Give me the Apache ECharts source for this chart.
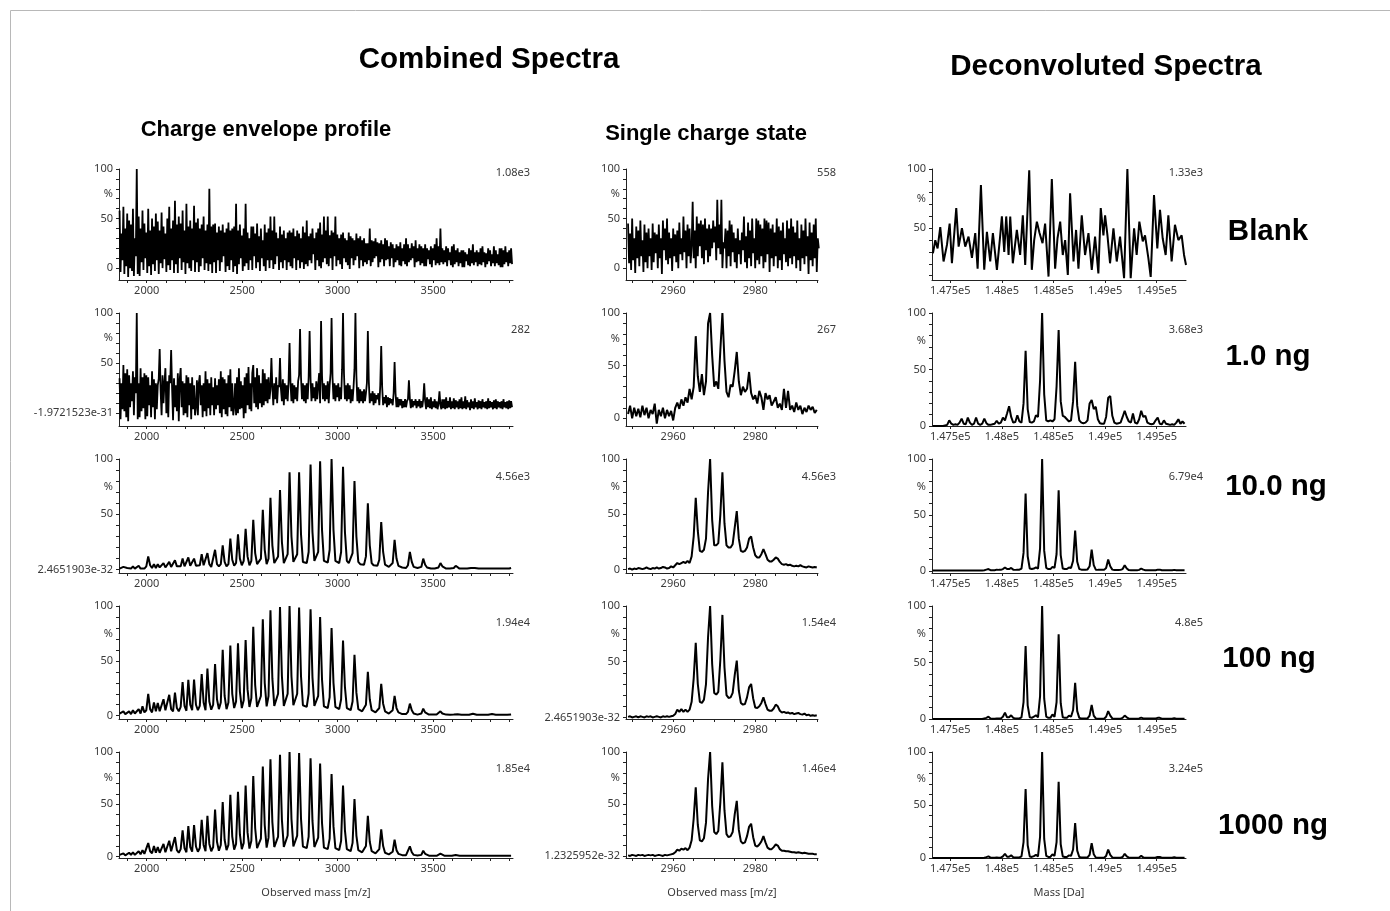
<!DOCTYPE html>
<html><head><meta charset="utf-8">
<script src="https://cdn.jsdelivr.net/npm/echarts@6/dist/echarts.min.js"></script>
<style>html,body{margin:0;padding:0;background:#fff}#c{width:1390px;height:911px}</style>
</head><body><div id="c"></div>
<script>
// ---------------- DATA ----------------
// Column 1: charge envelope profile. Noisy traces sampled every 5 m/z, clean ones every 10 m/z, from 1858
const envX0 = 1858, envNoiseStep = 5, envStep = 10;
const envBlank = [58,-4,35,8,62,-6,40,2,55,-9,48,0,44,-3,60,-8,30,12,100,-6,
 52,-8,40,6,58,-2,45,10,36,-5,60,2,38,-7,50,4,42,-3,55,8,
 47,-6,38,5,56,0,42,9,35,-4,50,3,62,-2,40,8,48,-5,68,4,
 44,-5,52,10,45,-2,58,6,38,-6,65,5,42,0,48,-3,40,8,63,-4,
 46,6,50,-4,40,2,44,10,52,-2,38,5,44,-3,80,4,42,-5,44,6,
 45,-5,36,8,42,-3,38,6,44,12,36,-4,40,2,46,-2,38,8,40,-4,
 42,2,65,-6,38,4,44,10,33,-3,40,2,65,5,36,-2,30,8,42,-2,
 42,12,35,0,45,6,32,-3,40,10,28,2,44,-3,36,8,40,0,52,8,
 38,-1,52,4,36,12,30,-2,42,6,34,0,38,8,30,-2,36,6,38,2,
 36,0,40,10,32,-2,38,8,35,0,30,6,42,-1,36,4,48,2,32,8,
 35,5,40,14,30,-2,36,8,40,2,46,0,34,6,52,10,38,4,52,2,
 33,10,38,-2,36,12,52,2,34,8,30,4,34,-1,36,10,30,6,28,3,
 36,-1,32,10,30,3,28,8,35,12,30,0,32,8,28,2,30,6,25,4,
 25,8,40,2,28,6,27,10,30,12,26,1,25,6,28,9,24,2,30,8,
 28,9,22,2,26,10,24,1,20,6,24,8,22,3,26,2,20,7,24,4,
 30,2,24,6,20,8,25,10,22,1,28,6,20,7,24,3,22,5,20,2,
 24,2,20,9,18,4,22,1,20,8,24,3,30,5,22,3,40,6,20,4,
 18,6,22,2,20,8,16,3,22,1,24,4,18,6,20,2,16,5,18,1,
 18,1,16,7,14,3,20,2,18,5,24,3,16,6,18,2,16,4,20,3,
 22,6,16,1,15,4,20,7,18,2,14,5,22,2,18,5,14,3,20,1,
 20,1,18,4,22,6,16,2,18,5,20,4];
const env1ng = [35,-6,30,4,48,2,40,-4,44,-8,38,6,30,12,42,-2,36,20,100,-6,
 30,-4,45,2,36,5,40,-6,38,-3,36,8,28,-4,42,6,34,-6,30,4,
 28,34,64,22,-2,38,10,30,45,0,32,-4,38,30,63,25,-7,35,6,28,
 2,40,-8,34,45,6,32,-2,30,0,38,-4,36,8,30,-6,36,4,28,-2,
 6,33,-2,30,38,8,28,-4,30,2,42,-3,34,5,30,-2,36,8,26,-2,
 35,4,28,8,34,0,42,-4,36,4,34,-1,30,-3,38,6,44,2,30,-2,
 6,30,-2,36,0,45,4,32,5,28,-5,36,0,40,8,46,4,30,2,40,
 48,10,36,6,45,4,38,10,30,6,44,8,40,12,34,10,36,14,24,55,
 26,8,30,14,36,10,28,26,55,24,12,34,8,30,14,28,12,32,70,30,
 12,30,10,28,14,26,12,32,38,84,36,14,30,12,28,10,30,14,36,82,
 34,12,30,15,26,12,32,14,28,40,10,92,38,14,30,12,28,14,32,10,
 28,40,95,36,14,30,12,28,16,30,12,26,14,44,100,40,14,28,12,30,
 14,28,10,24,12,26,44,100,38,12,26,10,24,12,22,10,24,12,20,30,
 82,32,10,20,12,22,8,20,10,18,14,20,8,28,67,26,8,16,10,18,
 6,16,8,15,10,14,8,20,51,20,6,16,6,14,8,14,5,12,6,14,
 6,12,14,33,14,5,14,6,12,8,14,5,12,7,14,5,12,6,14,30,
 12,4,16,6,14,5,16,4,12,6,14,5,12,4,10,22,8,4,14,5,
 14,4,16,5,12,6,16,4,12,5,15,4,13,6,12,4,14,5,16,4,
 12,5,17,4,13,6,11,3,14,5,12,4,15,6,11,4,13,5,12,4,
 14,6,11,5,12,4,15,5,12,6,11,4,13,5,14,4,12,6,11,5,
 12,4,14,6,11,5,12,4,13,5,12,6];
const env10ng = [1,1.5,2.5,1,1.5,2.5,1,3,1,1.5, 3.5,1,2.5,1,3,12,4,1.5,5,1.5, 5,2,1.5,6,2,1.5,7,2.5,1.5,8.5, 3,1.5,3,10,3,2,11,3.5,2,10,
 3.5,2,4,14,4,2.5,15,5,2.5,4, 18,5,3,5,22,7,3,5,28,9, 3.5,6,32,10,4,8,37,12,4,8, 45,15,5,4.5,10,54,18,5,10,65,
 22,6,5,12,72,25,6,5.5,14,88, 30,7,6,14,88,32,7,6,6,16, 95,34,8,6.5,16,98,36,8,6.5,6.5, 18,100,36,8,6.5,6,16,93,34,8,
 6,5.5,15,80,30,7,5,5,4.5,12, 60,22,6,4,3.5,3.5,9,43,16,4.5, 3,2.5,2.5,6,27,10,3.5,2,2,1.5, 1.5,4,16,7,2.5,1.5,1.5,1,2.5,10,
 4.5,2,1,1,1,1,1,2,6,3, 1.5,1,1,1,1,1.5,3.5,2,1,1, 1,1,1,1,1.5,3,1.5,1,1,1, 1,1,1,1,1,1.5,1,1,1,1, 1,1,1,1,1,1.5];
const env100ng = [2,3,4,1.5,2.5,4,1.5,5,2,3, 6,2,8.5,3,5,20,6,3,12,4, 11.5,4,3,15,5,3.5,19,6,4,21, 7,4,8,30.6,9,4.5,32.7,10,5,33,
 10,5,9,38,12,5,43,13,5.5,10, 47,15,6,12,60,18,6,12,64,20, 7,13,66,22,7,14,69,24,8,16, 81,28,8,7,18,88,30,8.5,18,96,
 34,9,8,20,99,36,9,8,20,100, 36,9.5,8,20,98.5,36,9.5,8,8,20, 97,35,9,7.5,18,90,33,8.5,7,7, 17,80,30,8,6.5,6,15,68.5,26,7,
 5.5,5,13,55.5,21,6,4.5,4,4,10, 40,15,5,3.5,3,3,7,29,11,4, 2.5,2,2,5,18,7,3,2,1.5,1.5, 1.5,3.5,11,5,2,1.5,1,1,2,6.4,
 3,1.5,1,1,1,1,1,1.5,4,2, 1,1,0.8,0.8,0.8,1,2.4,1.3,0.8,0.8, 0.8,0.8,0.8,0.8,1,1.8,1,0.8,0.8,0.8, 0.8,0.8,0.8,0.8,1,1.5,0.8,0.8,0.8,0.8, 0.8,0.8,0.8,0.8,0.8,1.2];
const env1000ng = [1.5,2,3,1,2,3.5,1.5,4,1.5,2.5, 5,2,6,2.5,4,12.8,5,3,10,3.5, 9,3.5,3,12,4,3,15,5,3.5,18.5, 6,3.5,7,25,8,4,29,9,4.5,30,
 9.5,4.5,8,35,11,5,39,12,5,9, 45,14,5.5,11,52,16,6,11,59,19, 6.5,12,62,21,7,13,68,23,7.5,15, 77,27,8,7,17,86,30,8.5,18,93,
 33,9,8,19,97.4,35,9,8,20,100, 36,9.5,8,20,99,36,9.5,8,8,19, 94,34,9,7.5,18,89,32,8.5,7,7, 17,79,29,8,6.5,6,15,68,25,7,
 5.5,5,13,55,20,6,4.5,4,4,10, 39,14,5,3.5,3,3,7,26,10,3.5, 2.5,2,2,4.5,16,6,2.5,1.5,1.2,1.2, 1.2,3,9.6,4,1.5,1,0.8,0.8,1.5,5.4,
 2.5,1,0.7,0.6,0.6,0.6,0.6,1,2.6,1.3, 0.7,0.6,0.6,0.6,0.6,0.8,1.3,0.8,0.6,0.6, 0.6,0.6,0.6,0.6,0.6,1,0.7,0.6,0.6,0.6, 0.6,0.6,0.6,0.6,0.6,0.8,0.6,0.6,0.6,0.6, 0.6,0.6,0.6,0.6,0.6,0.6];

// Column 2: single charge state (z = 50). Blank every 0.25 m/z, others every 0.5 m/z, from 2949
const singleX0 = 2949, singleNoiseStep = 0.25, singleStep = 0.5;
const singleBlank = [45,5,35,-2,50,8,30,-5,42,10,38,2,48,12,28,-4,44,6,36,0,
 40,12,30,-2,45,6,36,15,34,0,44,10,30,-6,48,18,40,8,50,4,
 36,10,30,-3,40,12,34,6,38,0,46,14,30,8,52,16,38,0,44,12,
 40,5,22,67,10,38,0,52,12,45,22,48,10,44,4,50,18,40,6,44,
 12,40,20,48,26,42,8,69,20,44,14,69,0,26,20,40,0,38,12,48,
 2,44,16,36,6,30,0,40,14,28,4,36,18,52,6,32,0,46,10,38,
 2,50,15,30,0,50,8,48,4,44,12,40,0,50,6,48,14,46,-4,40,
 10,44,2,36,12,50,0,42,8,38,-2,46,14,30,6,48,2,40,10,50,
 4,42,12,36,0,48,8,30,-3,44,10,38,4,50,12,32,-6,46,8,36,
 2,44,10,50,-4,30,20];
const single1ng = [4,12,0,10,2,9,1,12,3,10, 0,8,4,14,-5,8,2,10,0,8, 2,7,-2,10,15,9,18,12,20,15, 28,18,30,78,40,25,42,22,35,90,
 100,60,30,35,28,65,100,55,25,20, 32,30,45,63,35,22,30,25,28,44, 24,18,22,14,26,20,8,24,18,22, 12,16,20,10,14,8,28,10,26,8, 12,6,15,8,12,4,10,6,12,8, 11,5,8];
const single10ng = [0.5,1,0,1,0.5,1.5,1,0.5,1,2, 1,0.5,1.5,1,2,1,1.5,2.5,2,1, 1.5,3,2,4,6,5,6,7,6,8, 6,12,30,65,35,17,16,18,28,70,
 100,45,22,22,24,50,88,42,22,20, 20,23,38,53,28,17,16,17,20,28, 30,20,13,11,11,14,18.5,14,9,7.5, 7.5,9,11,10,7,5,4.5,5,4,4.5, 3.5,3,3.5,3,4,3,2.5,2,3,2.5, 2,2.5,2];
const single100ng = [0.5,1,0,0.5,1,0,1,0.5,0,1, 0.5,1,0,0.5,1,0.5,0,1,0.5,1, 0.5,1,1.5,3,7,5,7.5,5,7,5, 7,14,35,67,30,14,13,16,30,72,
 100,48,22,20.5,23,52,92,45,20,17.5, 18,22,38,51,24,13,11.5,12,18,27, 30,17,9,8.5,10,13,18,12,7,6, 6,8,11.5,10,6,4.5,5,4,4.5,3.5, 4,3,3.5,4,3,2.5,3.5,2,2.5,1.5, 2,1.5,2];
const single1000ng = [0.5,0,1,0.5,0,1,0.5,1,0,0.5, 1,0.5,1,0,0.5,1,0.5,0,1,0.5, 1,1.5,2,3.5,6,5,7,6,7.5,5.5, 8,15,36,66,30,15,14,17,32,74,
 100,48,23,21,24,52,90,44,21,18, 19,23,40,53,25,14,12,13,19,28, 31,18,10,9,11,14,19,13,8,6.5, 6.5,8.5,11,10,6.5,5,5,4.5,4.5,4, 3.5,3.5,3,3.5,3,2.5,3,2.5,2,2, 2,1.5,1.5];

// Column 3: deconvoluted spectra
const deconBlankMass = [147332,147355,147377,147403,147435,147468,147494,147516,147558,147581,147613,147645,147677,147710,147742,147765,147797,147829,147855,147887,
 147913,147952,147984,148000,148023,148042,148065,148081,148106,148145,148177,148203,148226,148265,148290,148313,148339,148365,148394,148419,
 148452,148484,148516,148539,148565,148590,148613,148639,148661,148694,148719,148742,148774,148806,148839,148871,148903,148935,148958,148984,
 149000,149023,149048,149081,149113,149145,149184,149216,149248,149281,149306,149332,149365,149387,149419,149442,149474,149506,149532,149558,
 149587,149613,149645,149677,149710,149742,149765,149784];
const deconBlankPct = [29,40,33,51,22,36,54,20.5,67,34.5,50,34.5,43,25,46,16,86.5,15,47,22,
 46,15,44,60,30,60,27.5,60,20.5,48.6,27.5,61,19,99,15,40,55.6,46,37.4,54,
 9.3,91.6,16,41.6,55.6,27.5,40,10.7,79.5,22,48.6,16,61,27.5,46,15,43,12,67,44,
 61,44,20.5,50,22,43,8,100,8,50,27.5,55.6,39,44,25,9,78,33,65.5,41.6,
 27.5,61,22,53,40,44,27.5,19];
const deconX0 = 147330, deconStep = 20;
const decon1ng = [0,0,0,0,0,0,0.5,1,5,2, 1,1.5,1,3,6.5,2,1.5,7.5,3,1, 2,7.5,2,1,2,6.5,2.5,1,1,1.5, 2,4.7,2,3,7.5,5,11,17.5,8,3,
 3.5,9.5,4,3,20,66.5,15,3.5,3,4, 9.5,8,40,100,28,5,4,5,4,6, 35,85,22,9,8,6,4,5,22,56.8, 18,5,3,2.5,3,5,20,23,15,17,
 6,2.5,2,2,8,25,26.5,9,3,2, 2.5,3,8,13.5,8,4,3,11,3,2, 6,13.5,8,9,3,2,1.5,2,5,7.5, 2,1.5,5,2,1.5,1,1.5,1,3,6, 2,4,2];
const decon10ng = [0.3,0.3,0.3,0.3,0.3,0.3,0.3,0.3,0.3,0.3, 0.3,0.3,0.3,0.3,0.3,0.3,0.3,0.3,0.3,0.3, 0.3,0.3,0.3,0.3,0.3,0.5,1,1.5,0.5,0.5, 0.5,1,0.8,0.8,1.5,3,1.5,1.5,2.5,1,
 0.8,1,1,2,16,69,13,2,1.5,2, 3,2,20,100,18,2.5,1.5,1.5,3.5,2.5, 15,72,14,2,1.5,1.5,3,2.5,9,36, 8,1.5,1,1,1,1.2,4,19,5,1,
 0.8,0.8,0.8,0.8,2.5,10,4,1,0.6,0.6, 0.6,0.8,1.5,5,2,0.6,0.5,0.5,0.5,0.5, 0.8,2,1,0.5,0.5,0.5,0.5,0.5,0.5,1, 1,0.4,0.4,0.4,0.4,0.4,0.4,0.8,0.5,0.4, 0.4,0.4,0.4];
const decon100ng = [0,0,0,0,0,0,0,0,0,0, 0,0,0,0,0,0,0,0,0,0, 0,0,0,0,0,0.5,1,2,0.5,0.3, 0.3,0.5,0.5,0.5,2,5.6,1.5,1.5,3.3,1,
 0.5,0.5,0.5,1.5,15,64.6,12,1.5,1,2, 3.3,1.5,20,100,18,2,1,1,4,2, 15,75,14,1.5,1,1,3,2,8,32, 7,1,0.5,0.5,0.5,0.5,3,12.5,3,0.5,
 0.3,0.3,0.3,0.3,2,7,3,0.5,0.3,0.3, 0.3,0.3,1,3,1.5,0.3,0.3,0.3,0.3,0.3, 0.5,1.2,0.5,0.5,0.5,0.5,0.5,0.5,0.5,1, 1,0.3,0.3,0.3,0.3,0.3,0.3,0.8,0.3,0.3, 0.3,0.3,0.3];
const decon1000ng = [0,0,0,0,0,0,0,0,0,0, 0,0,0,0,0,0,0,0,0,0, 0,0,0,0,0,0.3,0.8,1.5,0.3,0.3, 0.3,0.5,0.3,0.3,1.5,4,1.2,1.2,2.5,0.8,
 0.5,0.5,0.5,1.5,15,65,12,1.5,1,1.8, 3,1.5,20,100,18,2,1,1,3.5,2, 15,72,13,1.5,1,1,2.5,2,8,33, 7,1,0.5,0.5,0.5,0.5,3,14,3.5,0.5,
 0.3,0.3,0.3,0.3,2,8,3,0.5,0.3,0.3, 0.3,0.3,1,4,1.5,0.3,0.3,0.3,0.3,0.3, 0.5,2,0.6,0.3,0.3,0.3,0.3,0.3,0.5,1, 1,0.3,0.3,0.3,0.3,0.3,0.3,0.8,0.3,0.3, 0.3,0.3,0.3];

// Texts and tick labels
const sampleLabels = ['Blank', '1.0 ng', '10.0 ng', '100 ng', '1000 ng'];
const envMaxIntensity = ['1.08e3', '282', '4.56e3', '1.94e4', '1.85e4'];
const singleMaxIntensity = ['558', '267', '4.56e3', '1.54e4', '1.46e4'];
const deconMaxIntensity = ['1.33e3', '3.68e3', '6.79e4', '4.8e5', '3.24e5'];
const zeroLabels = [['0','0',''], ['-1.9721523e-31','0','0'], ['2.4651903e-32','0','0'], ['0','2.4651903e-32','0'], ['0','1.2325952e-32','0']];
const envTickLabels = [2000, 2500, 3000, 3500];
const singleTickLabels = [2960, 2980];
const deconTickValues = [147500, 148000, 148500, 149000, 149500];
const deconTickText = ['1.475e5', '1.48e5', '1.485e5', '1.49e5', '1.495e5'];
const envMinorTicks = [1900,2000,2100,2200,2300,2400,2500,2600,2700,2800,2900,3000,3100,3200,3300,3400,3500,3600,3700,3800,3900];
const singleMinorTicks = [2950,2955,2960,2965,2970,2975,2980,2985,2990,2995];
const yTickValues = [0,10,20,30,40,50,60,70,80,90,100];
const xAxisTitles = ['Observed mass [m/z]', 'Observed mass [m/z]', 'Mass [Da]'];

// ---------------- LAYOUT ----------------
const COL_LEFT = [119, 626, 932], COL_W = [394, 192, 254];
const ROW_TOP = [169, 313, 459, 606, 752], ROW_BOT = [280, 426, 573, 719, 858];
const Y_MIN = [[-12,-12,6.4],[-12.7,-7.3,0],[-3,-3,-2],[-3,-1.4,0],[-1.5,-2,0]];
const X_RANGE = [[1855,3918],[2948.5,2995.3],[147323,149784]];
const INT_X = [530, 836, 1203], INT_Y = [173, 330, 477, 623, 769];
const LABEL_POS = [[1268, 232], [1268, 357], [1276, 487], [1269, 659], [1273, 826]];
const NOISY = [[true, true, false], [true, false, false], [false, false, false], [false, false, false], [false, false, false]];

const uniform = (x0, step, ys) => ys.map((y, i) => [x0 + i * step, y]);
const panelData = [
  [uniform(envX0, envNoiseStep, envBlank), uniform(singleX0, singleNoiseStep, singleBlank), deconBlankMass.map((m, i) => [m, deconBlankPct[i]])],
  [uniform(envX0, envNoiseStep, env1ng), uniform(singleX0, singleStep, single1ng), uniform(deconX0, deconStep, decon1ng)],
  [uniform(envX0, envStep, env10ng), uniform(singleX0, singleStep, single10ng), uniform(deconX0, deconStep, decon10ng)],
  [uniform(envX0, envStep, env100ng), uniform(singleX0, singleStep, single100ng), uniform(deconX0, deconStep, decon100ng)],
  [uniform(envX0, envStep, env1000ng), uniform(singleX0, singleStep, single1000ng), uniform(deconX0, deconStep, decon1000ng)]
];
const intensities = [envMaxIntensity, singleMaxIntensity, deconMaxIntensity];

const FONT = '"Noto Sans", "Open Sans", sans-serif';
const BOLD = '"Liberation Sans", Arial, sans-serif';
const AX = '#222', LBL = '#3a3a3a';
const grids = [], xAxes = [], yAxes = [], series = [], graphics = [];

for (let r = 0; r < 5; r++) {
  for (let c = 0; c < 3; c++) {
    const idx = r * 3 + c;
    const ymin = Y_MIN[r][c];
    grids.push({ left: COL_LEFT[c], top: ROW_TOP[r], width: COL_W[c], height: ROW_BOT[r] - ROW_TOP[r] });
    let xLabelVals, xTicks, xFmt;
    if (c === 0) { xLabelVals = envTickLabels; xTicks = envMinorTicks; xFmt = v => String(v); }
    else if (c === 1) { xLabelVals = singleTickLabels; xTicks = singleMinorTicks; xFmt = v => String(v); }
    else { xLabelVals = deconTickValues; xTicks = deconTickValues; xFmt = v => deconTickText[deconTickValues.indexOf(v)] || ''; }
    xAxes.push({
      type: 'value', gridIndex: idx, min: X_RANGE[c][0], max: X_RANGE[c][1],
      axisLine: { show: true, onZero: false, lineStyle: { color: AX, width: 1 } },
      axisTick: { show: true, customValues: xTicks, length: 3, lineStyle: { color: AX } },
      axisLabel: { customValues: xLabelVals, formatter: xFmt, color: LBL, fontSize: 11, fontFamily: FONT, margin: 5 },
      splitLine: { show: false }
    });
    const zl = zeroLabels[r][c];
    const yLabVals = [0, 50, 75, 100].filter(v => v >= ymin && !(v === 0 && zl === ''));
    yAxes.push({
      type: 'value', gridIndex: idx, min: ymin, max: 100,
      axisLine: { show: true, onZero: false, lineStyle: { color: AX, width: 1 } },
      axisTick: { show: true, customValues: yTickValues.filter(v => v >= ymin), length: 3, lineStyle: { color: AX } },
      axisLabel: { customValues: yLabVals, color: LBL, fontSize: 11, fontFamily: FONT, margin: 6,
        formatter: v => v === 100 ? '100' : v === 75 ? '%' : v === 50 ? '50' : zl },
      splitLine: { show: false }
    });
    series.push({
      type: 'line', xAxisIndex: idx, yAxisIndex: idx, data: panelData[r][c],
      showSymbol: false, symbol: 'none', clip: true, silent: true, animation: false,
      lineStyle: { color: '#000', width: NOISY[r][c] ? 1.8 : 2 }
    });
    graphics.push({ type: 'text', x: INT_X[c], y: INT_Y[r],
      style: { text: intensities[c][r], font: '11px ' + FONT, fill: LBL, textAlign: 'right', textVerticalAlign: 'middle' } });
  }
  graphics.push({ type: 'text', x: LABEL_POS[r][0], y: LABEL_POS[r][1],
    style: { text: sampleLabels[r], font: 'bold 29.5px ' + BOLD, fill: '#000', textAlign: 'center', textVerticalAlign: 'middle' } });
}
for (let c = 0; c < 3; c++) {
  graphics.push({ type: 'text', x: COL_LEFT[c] + COL_W[c] / 2, y: 893,
    style: { text: xAxisTitles[c], font: '11px ' + FONT, fill: LBL, textAlign: 'center', textVerticalAlign: 'middle' } });
}
const heads = [
  ['Combined Spectra', 489, 60, 29.5], ['Deconvoluted Spectra', 1106, 67, 29.5],
  ['Charge envelope profile', 266, 130, 22], ['Single charge state', 706, 134, 22]
];
heads.forEach(h => graphics.push({ type: 'text', x: h[1], y: h[2],
  style: { text: h[0], font: 'bold ' + h[3] + 'px ' + BOLD, fill: '#000', textAlign: 'center', textVerticalAlign: 'middle' } }));
graphics.push({ type: 'rect', shape: { x: 10.5, y: 10.5, width: 1400, height: 920 }, style: { fill: 'none', stroke: '#b8b8b8', lineWidth: 1 }, silent: true });

const chart = echarts.init(document.getElementById('c'), null, { renderer: 'canvas' });
chart.setOption({ animation: false, backgroundColor: '#fff', grid: grids, xAxis: xAxes, yAxis: yAxes, series: series, graphic: graphics });
</script></body></html>
